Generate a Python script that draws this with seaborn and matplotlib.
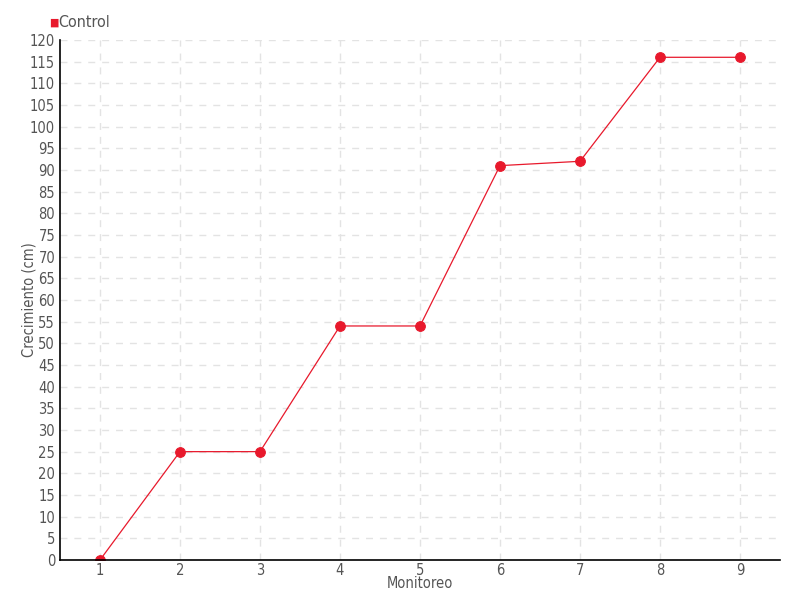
import matplotlib
matplotlib.use("Agg")
import matplotlib.pyplot as plt
import seaborn as sns
import pandas as pd
import numpy as np

# datos
monitoreo = [1, 2, 3, 4, 5, 6, 7, 8, 9]
control = [0, 25, 25, 54, 54, 91, 92, 116, 116]
y_ticks = list(range(0, 121, 5))

df = pd.DataFrame({"Monitoreo": monitoreo, "Control": control})

sns.set_style("white")
plt.rcParams["font.family"] = ["DejaVu Sans"]
plt.rcParams["font.stretch"] = "condensed"
plt.rcParams["font.weight"] = "light"

rojo = "#e8192c"
gris_texto = "#555555"

fig = plt.figure(figsize=(8, 6), dpi=100)
ax = fig.add_axes([0.075, 0.0667, 0.9, 0.8667])

sns.lineplot(data=df, x="Monitoreo", y="Control", ax=ax, color=rojo, linewidth=0.9,
             marker="o", markersize=7, markeredgecolor=rojo, label="Control", legend=False)

ax.set_xlim(0.5, 9.5)
ax.set_ylim(0, 120)
ax.set_xticks(monitoreo)
ax.set_yticks(y_ticks)
ax.tick_params(axis="both", labelsize=10.5, labelcolor=gris_texto, color="black", length=5, width=1)
ax.tick_params(axis="y", direction="inout", pad=1)
ax.tick_params(axis="x", direction="out", length=4, pad=-2)

ax.grid(True, linestyle=(0, (5, 5)), color="#e3e3e3", linewidth=1)
for s in ["top", "right"]:
    ax.spines[s].set_visible(False)
for s in ["left", "bottom"]:
    ax.spines[s].set_color("black")
    ax.spines[s].set_linewidth(1.2)

ax.set_xlabel("Monitoreo", fontsize=10.5, color=gris_texto, labelpad=-1)
ax.set_ylabel("Crecimiento (cm)", fontsize=10.5, color=gris_texto, labelpad=-5)

# leyenda arriba a la izquierda
fig.text(0.061, 0.963, "\u25a0", color=rojo, fontsize=8, ha="left", va="center", family=["DejaVu Sans"])
fig.text(0.073, 0.963, "Control", color=gris_texto, fontsize=11.5, ha="left", va="center")

fig.savefig("out.png", dpi=100)
